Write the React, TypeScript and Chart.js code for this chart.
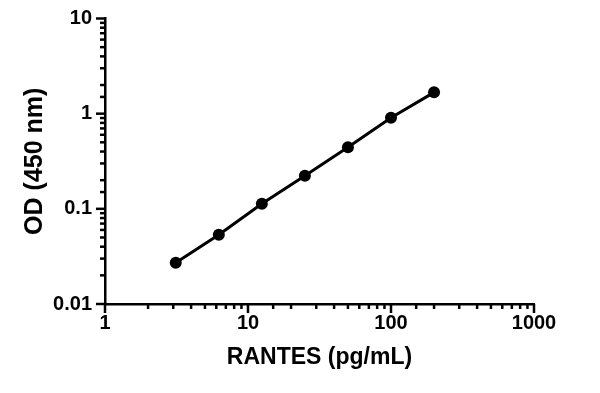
import React, { useEffect, useRef } from "react";
import { Chart, registerables } from "chart.js";

Chart.register(...registerables);

const concentrations = [3.125, 6.25, 12.5, 25, 50, 100, 200];
const odValues = [0.0271, 0.0535, 0.113, 0.223, 0.443, 0.906, 1.675];
const xTickLabels = ["1", "10", "100", "1000"];
const yTickLabels = ["0.01", "0.1", "1", "10"];
const xTitle = "RANTES (pg/mL)";
const yTitle = "OD (450 nm)";

const FONT = "'Liberation Sans', Arial, Helvetica, sans-serif";

function isDecade(v: number) {
  const l = Math.log10(v);
  return Math.abs(l - Math.round(l)) < 1e-6;
}

const tickPlugin = {
  id: "customTicks",
  afterDraw(chart: any) {
    const ctx = chart.ctx;
    const { left, bottom } = chart.chartArea;
    ctx.save();
    ctx.strokeStyle = "#000";
    ctx.lineWidth = 2.5;
    ctx.lineCap = "butt";
    const xs = chart.scales.x;
    xs.ticks.forEach((t: any) => {
      const px = xs.getPixelForValue(t.value);
      const len = isDecade(t.value) ? 9 : 5;
      ctx.beginPath();
      ctx.moveTo(px, bottom);
      ctx.lineTo(px, bottom + len);
      ctx.stroke();
    });
    const ys = chart.scales.y;
    ys.ticks.forEach((t: any) => {
      const py = ys.getPixelForValue(t.value);
      const len = isDecade(t.value) ? 9 : 5;
      ctx.beginPath();
      ctx.moveTo(left, py);
      ctx.lineTo(left - len, py);
      ctx.stroke();
    });
    ctx.restore();
  },
};

export default function App() {
  const ref = useRef<HTMLCanvasElement>(null);

  useEffect(() => {
    document.body.style.margin = "0";
    const canvas = ref.current;
    if (!canvas) return;
    const chart = new Chart(canvas, {
      type: "scatter",
      data: {
        datasets: [
          {
            data: concentrations.map((c, i) => ({ x: c, y: odValues[i] })),
            showLine: true,
            borderColor: "#000",
            backgroundColor: "#000",
            borderWidth: 3,
            pointRadius: 6,
            pointBackgroundColor: "#000",
            pointBorderWidth: 0,
          },
        ],
      },
      options: {
        responsive: false,
        animation: false,
        layout: { padding: { left: 16, right: 66, top: 18.5, bottom: 18 } },
        plugins: { legend: { display: false }, tooltip: { enabled: false } },
        scales: {
          x: {
            type: "logarithmic",
            min: 1,
            max: 1000,
            afterFit: (s: any) => {
              s.height = 71;
            },
            grid: { drawOnChartArea: false, tickLength: 9, tickColor: "rgba(0,0,0,0)" },
            border: { color: "#000", width: 2.5 },
            ticks: {
              autoSkip: false,
              maxRotation: 0,
              padding: -2,
              color: "#000",
              font: { family: FONT, size: 20, weight: "bold" },
              callback: (v: any) =>
                isDecade(Number(v)) ? xTickLabels[Math.round(Math.log10(Number(v)))] : "",
            },
            title: {
              display: true,
              text: xTitle,
              color: "#000",
              font: { family: FONT, size: 23, weight: "bold" },
            },
          },
          y: {
            type: "logarithmic",
            min: 0.01,
            max: 10,
            afterFit: (s: any) => {
              s.width = 89;
            },
            grid: { drawOnChartArea: false, tickLength: 9, tickColor: "rgba(0,0,0,0)" },
            border: { color: "#000", width: 2.5 },
            ticks: {
              autoSkip: false,
              padding: 4,
              color: "#000",
              font: { family: FONT, size: 20, weight: "bold" },
              callback: (v: any) =>
                isDecade(Number(v)) ? yTickLabels[Math.round(Math.log10(Number(v))) + 2] : "",
            },
            title: {
              display: true,
              text: yTitle,
              color: "#000",
              font: { family: FONT, size: 25, weight: "bold" },
            },
          },
        },
      },
      plugins: [tickPlugin],
    } as any);
    return () => chart.destroy();
  }, []);

  return (
    <div style={{ width: 600, height: 393, background: "#fff" }}>
      <canvas ref={ref} width={600} height={393} />
    </div>
  );
}
